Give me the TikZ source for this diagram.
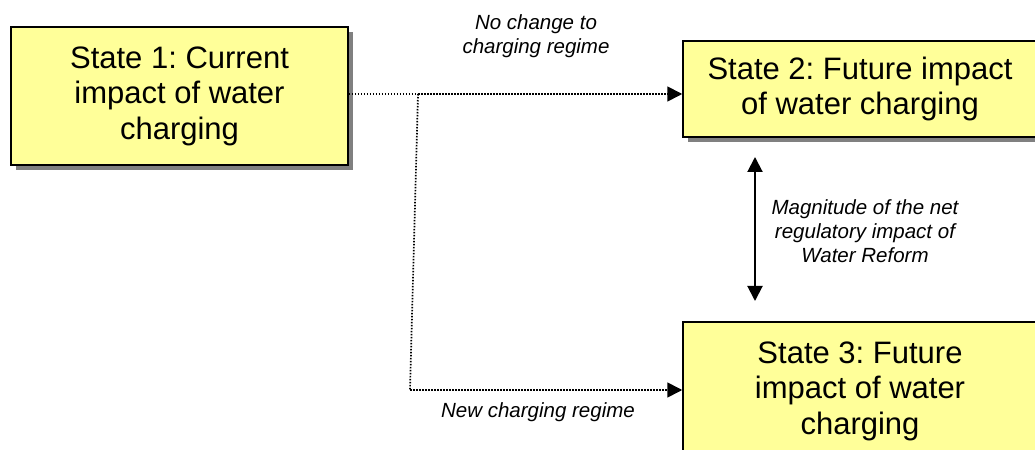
\documentclass[tikz,border=0pt]{standalone}
\usepackage{fontspec}
\setmainfont{Liberation Sans}
\usetikzlibrary{arrows.meta,shadows}
\definecolor{boxyellow}{HTML}{FFFF99}
\definecolor{shadowgray}{HTML}{808080}
\frenchspacing
\begin{document}
\begin{tikzpicture}[x=1bp,y=-1bp,
  statebox/.style={draw=black, line width=1.5bp, fill=boxyellow, align=center,
    font=\fontsize{31bp}{35.5bp}\selectfont, inner sep=0pt,
    drop shadow={shadow xshift=5bp, shadow yshift=-5bp, fill=shadowgray, opacity=1}},
  lbl/.style={align=center, font=\fontsize{20.5bp}{24bp}\selectfont\itshape, inner sep=0pt},
  dotline/.style={line width=1.7bp, dash pattern=on 1.5bp off 1.5bp},
  tip/.style={-{Triangle[length=15bp,width=15bp]}},
  dtip/.style={{Triangle[length=15bp,width=15bp]}-{Triangle[length=15bp,width=15bp]}, line width=2bp}
]
\clip (0,0) rectangle (1035,450);
\fill[white] (0,0) rectangle (1035,450);

\node[statebox, minimum width=337bp, minimum height=138bp] (s1) at (179.5,96)
  {State 1: Current\\impact of water\\charging};
\node[statebox, minimum width=354bp, minimum height=96bp] (s2) at (860,89)
  {State 2: Future impact\\of water charging};
\node[statebox, minimum width=354bp, minimum height=138bp] (s3) at (860,391)
  {State 3: Future\\impact of water\\charging};

\coordinate (j1) at (418,94);
\coordinate (j2) at (410,390);
\draw[dotline] (s1.east |- j1) -- (j1);
\draw[dotline, tip] (j1) -- (s2.west |- j1);
\draw[dotline] (j1) -- (j2);
\draw[dotline, tip] (j2) -- (s3.west |- j2);

\coordinate (a1) at (755,157);
\coordinate (a2) at (755,301);
\draw[dtip] (a1) -- (a2);

\node[lbl] (l1) at (536,36) {No change to\\charging regime};
\node[lbl] (l2) at (538,412) {New charging regime};
\node[lbl] (l3) at (865,231) {Magnitude of the net\\regulatory impact of\\Water Reform};
\end{tikzpicture}
\end{document}
